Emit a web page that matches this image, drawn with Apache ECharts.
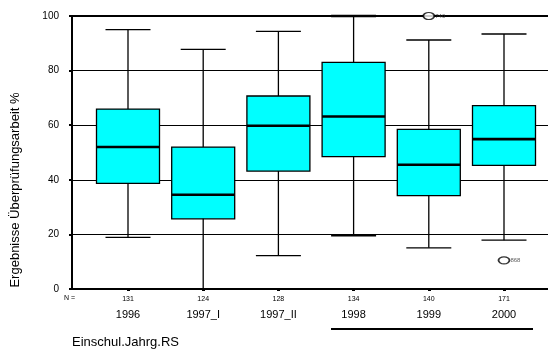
<!DOCTYPE html>
<html><head><meta charset="utf-8">
<script src="https://cdn.jsdelivr.net/npm/echarts@6/dist/echarts.min.js"></script>
<style>html,body{margin:0;padding:0;background:#fff}#c{width:548px;height:354px}</style>
</head><body><div id="c"></div>
<script>
var categories = ['1996','1997_I','1997_II','1998','1999','2000'];
var counts = [131,124,128,134,140,171];
// [low whisker, Q1, median, Q3, high whisker]
var lowW   = [18.9, 0,    12.2, 19.5, 15.1, 17.9];
var q1     = [38.7, 25.7, 43.2, 48.5, 34.2, 45.3];
var median = [52.0, 34.5, 59.8, 63.2, 45.5, 54.9];
var q3     = [65.9, 52.0, 70.7, 83.0, 58.5, 67.2];
var highW  = [95.0, 87.8, 94.4, 100,  91.2, 93.4];
var outlierCat = [4, 5];
var outlierVal = [100, 10.5];
var outlierId = ['740', '868'];
var yTicks = [0,20,40,60,80,100];

var boxData = categories.map(function(c,i){return [i, lowW[i], q1[i], median[i], q3[i], highW[i]];});
var outData = outlierCat.map(function(c,i){return {value:[c, outlierVal[i]], name: outlierId[i]};});

var chart = echarts.init(document.getElementById('c'), null, {renderer:'canvas'});
var F = 'Liberation Sans, Arial, sans-serif';
chart.setOption({
  animation:false,
  backgroundColor:'#fff',
  grid:[
    {left:72, right:0, top:16, bottom:65},
    {left:90.4, right:6.4, top:16, bottom:65}
  ],
  xAxis:[
    {gridIndex:0, type:'value', min:0, max:1, axisLine:{show:true, onZero:false, lineStyle:{color:'#000', width:2}}, axisTick:{show:false}, axisLabel:{show:false}, splitLine:{show:false}},
    {gridIndex:0, type:'value', position:'top', min:0, max:1, axisLine:{show:true, onZero:false, lineStyle:{color:'#000', width:2}}, axisTick:{show:false}, axisLabel:{show:false}, splitLine:{show:false}},
    {gridIndex:1, type:'category', data:categories, boundaryGap:true,
     axisLine:{show:false}, axisTick:{show:true, alignWithLabel:true, length:2, lineStyle:{color:'#000', width:3}},
     axisLabel:{margin:5, color:'#000', fontFamily:F,
       formatter:function(v,i){return '{n|'+counts[i]+'}\n{c|'+v+'}';},
       rich:{n:{fontSize:7, lineHeight:10, fontFamily:F, color:'#000'}, c:{fontSize:11, lineHeight:22, fontFamily:F, color:'#000'}}},
     splitLine:{show:false}}
  ],
  yAxis:[
    {gridIndex:0, type:'value', min:0, max:100, interval:20,
     axisLine:{show:true, lineStyle:{color:'#000', width:2}},
     axisTick:{show:true, length:3, lineStyle:{color:'#000', width:2}},
     axisLabel:{margin:13, fontSize:10, color:'#000', fontFamily:F},
     splitLine:{show:true, lineStyle:{color:'#000', width:1}}},
    {gridIndex:1, type:'value', min:0, max:100, show:false}
  ],
  series:[
    {type:'custom', xAxisIndex:2, yAxisIndex:1, data:boxData, z:5,
     renderItem:function(params, api){
       var x = api.value(0);
       var pL = api.coord([x, api.value(1)]);
       var p1 = api.coord([x, api.value(2)]);
       var pM = api.coord([x, api.value(3)]);
       var p3 = api.coord([x, api.value(4)]);
       var pH = api.coord([x, api.value(5)]);
       var cx = pL[0], bw = 63, cw = 45;
       var ls = {stroke:'#000', lineWidth:1.3};
       return {type:'group', children:[
         {type:'line', shape:{x1:cx, y1:pL[1], x2:cx, y2:pH[1]}, style:ls},
         {type:'line', shape:{x1:cx-cw/2, y1:pL[1], x2:cx+cw/2, y2:pL[1]}, style:ls},
         {type:'line', shape:{x1:cx-cw/2, y1:pH[1], x2:cx+cw/2, y2:pH[1]}, style:{stroke:'#000', lineWidth: api.value(5)>=100?2.5:1.3}},
         {type:'rect', shape:{x:cx-bw/2, y:p3[1], width:bw, height:p1[1]-p3[1]}, style:{fill:'#00FFFF', stroke:'#000', lineWidth:1.3}},
         {type:'line', shape:{x1:cx-bw/2, y1:pM[1], x2:cx+bw/2, y2:pM[1]}, style:{stroke:'#000', lineWidth:2.6}}
       ]};
     }},
    {type:'scatter', xAxisIndex:2, yAxisIndex:1, data:outData, z:6,
     symbol:'circle', symbolSize:[11,7],
     itemStyle:{color:'#fff', borderColor:'#000', borderWidth:1.5},
     label:{show:true, position:'right', distance:0, fontSize:6, color:'#333', fontFamily:F, formatter:function(p){return p.name;}}}
  ],
  graphic:[
    {type:'text', x:15, y:190, rotation:Math.PI/2, style:{text:'Ergebnisse Überprüfungsarbeit %', font:'13px '+F, fill:'#000', textAlign:'center', textVerticalAlign:'middle'}},
    {type:'text', left:64, top:295, style:{text:'N =', font:'7px '+F, fill:'#000'}},
    {type:'text', left:72, top:336, style:{text:'Einschul.Jahrg.RS', font:'13px '+F, fill:'#000'}},
    {type:'line', shape:{x1:331, y1:329, x2:533, y2:329}, style:{stroke:'#000', lineWidth:2}}
  ]
});
</script></body></html>
